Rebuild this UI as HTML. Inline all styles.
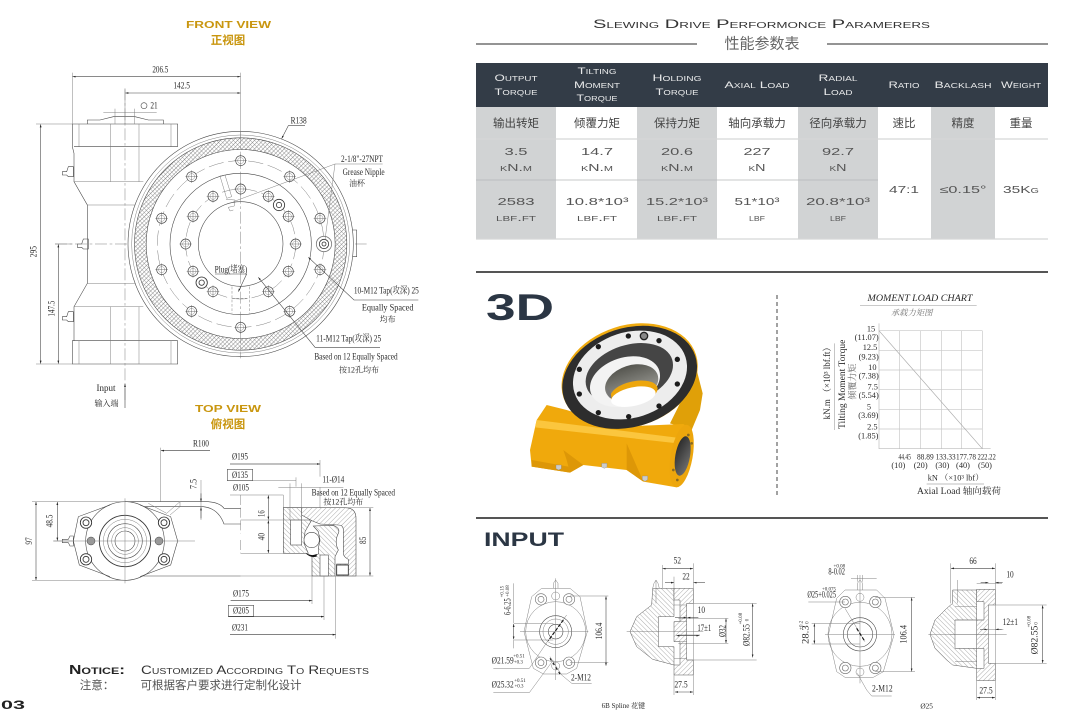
<!DOCTYPE html>
<html><head><meta charset="utf-8"><style>
html,body{margin:0;padding:0;background:#fff;width:1080px;height:715px;overflow:hidden}
svg{display:block}
.s text{font-family:"Liberation Serif","Noto Serif CJK SC",serif;fill:#2a2a2a;font-size:29px;text-anchor:middle}
.w text{font-family:"Liberation Sans","Noto Sans CJK SC",sans-serif;font-variant:small-caps;fill:#555;text-anchor:middle;font-size:10px}
.z{fill:none;stroke:#444;stroke-width:1.7}
.l{fill:none;stroke:#777;stroke-width:1.4}
.d{stroke-dasharray:36 8 8 8}
.h{stroke-dasharray:46 14}
.g{font-variant:normal!important;font-weight:bold;font-size:10px!important;fill:#c9960f!important}
.c{font-variant:normal!important;font-weight:bold;font-size:11.5px!important;fill:#c9960f!important}
.th{fill:#e8e9ea!important;font-size:9.5px!important}
.cn{font-variant:normal!important;font-size:11.5px!important;fill:#444!important}
</style></head><body>
<svg width="1080" height="715" viewBox="0 0 1080 715" xmlns="http://www.w3.org/2000/svg">
<defs>
<pattern id="hx" width="9" height="9" patternUnits="userSpaceOnUse" patternTransform="rotate(45)"><rect width="9" height="9" fill="#fff"/><line x1="0" y1="0" x2="0" y2="9" stroke="#555" stroke-width="2.2"/><line x1="0" y1="0" x2="9" y2="0" stroke="#777" stroke-width="1.8"/></pattern>
<pattern id="ha" width="10" height="10" patternUnits="userSpaceOnUse" patternTransform="rotate(45)"><rect width="10" height="10" fill="#fff"/><line x1="0" y1="0" x2="0" y2="10" stroke="#666" stroke-width="1.6"/></pattern>
<pattern id="hb" width="10" height="10" patternUnits="userSpaceOnUse" patternTransform="rotate(-45)"><rect width="10" height="10" fill="#fff"/><line x1="0" y1="0" x2="0" y2="10" stroke="#666" stroke-width="1.6"/></pattern>
<marker id="a" viewBox="0 0 10 6" refX="10" refY="3" markerWidth="9" markerHeight="6" markerUnits="userSpaceOnUse" orient="auto-start-reverse"><path d="M0,0L10,3L0,6z" fill="#222"/></marker>
<g id="hole"><circle r="15" fill="#fff" stroke="#444" stroke-width="2"/><circle r="9" fill="none" stroke="#888" stroke-width="1.4"/><path d="M-19,0H19M0,-19V19" stroke="#555" stroke-width="1.2"/></g>
<g id="bolt"><circle r="17" fill="#fff" stroke="#333" stroke-width="2.6"/><circle r="9" fill="#fff" stroke="#333" stroke-width="2.6"/></g>
<g id="bolt2"><circle r="17" fill="#fff" stroke="#666" stroke-width="1.8"/><circle r="9" fill="#fff" stroke="#666" stroke-width="1.8"/></g>
<linearGradient id="gc" x1="0" y1="0" x2="0" y2="1"><stop offset="0" stop-color="#55554f"/><stop offset="1" stop-color="#a8a8a2"/></linearGradient>
<linearGradient id="ge" x1="0" y1="0" x2="1" y2="1"><stop offset="0" stop-color="#222"/><stop offset="1" stop-color="#777"/></linearGradient>
</defs>

<!-- FRONT VIEW -->
<g class="w"><text x="228.5" y="28" class="g" textLength="85" lengthAdjust="spacingAndGlyphs">FRONT VIEW</text>
<text x="228" y="44" class="c">正视图</text>
<text x="228" y="412" class="g" textLength="66" lengthAdjust="spacingAndGlyphs">TOP VIEW</text>
<text x="228" y="428" class="c">俯视图</text></g>

<g class="s" transform="scale(.33333)">
<!-- body -->
<path class="z" d="M217,372H533V440M217,372V440L222,460V545L262,615V850L222,920V1022H217V1092H533V1022M222,440H533M222,1022H533"/>
<path class="z" d="M262,372V360H300L340,350H405L445,360H490V372"/>
<path class="l" d="M237,372V440M332,372V545M417,372V545M513,372V440M237,1022V1092M332,920V1092M417,920V1092M513,1022V1092M222,545H430M222,920H430M262,615H430M262,850H430"/>
<path class="z" d="M187,515H200L205,500H220V530H205L200,525H187zM187,950H200L205,935H220V965H205L200,960H187zM232,732H245L250,717H265V747H250L245,742H232z"/>
<path class="l d" d="M375,265V1200M165,732H1100"/>
<!-- disc -->
<path class="z" d="M1055,690H1070V770H1055"/>
<circle cx="722" cy="732" r="338" fill="#fff" stroke="#444" stroke-width="1.7"/>
<circle cx="722" cy="732" r="327" class="l"/>
<circle cx="722" cy="732" r="301" fill="none" stroke="url(#hx)" stroke-width="35"/>
<circle cx="722" cy="732" r="318.5" class="z"/><circle cx="722" cy="732" r="283.5" class="z"/>
<circle cx="722" cy="732" r="250" class="l h"/><circle cx="722" cy="732" r="212" class="z"/>
<circle cx="722" cy="732" r="165" class="l h" stroke-dasharray="30 12"/><circle cx="722" cy="732" r="127" class="z"/>
<path class="l d" d="M722,395V1075"/>
<use href="#hole" x="722" y="482"/><use href="#hole" x="869" y="530"/><use href="#hole" x="960" y="655"/><use href="#hole" x="960" y="809"/><use href="#hole" x="869" y="934"/><use href="#hole" x="722" y="982"/><use href="#hole" x="575" y="934"/><use href="#hole" x="485" y="809"/><use href="#hole" x="485" y="655"/><use href="#hole" x="575" y="530"/>
<use href="#hole" x="722" y="567"/><use href="#hole" x="805" y="589"/><use href="#hole" x="865" y="649"/><use href="#hole" x="887" y="732"/><use href="#hole" x="865" y="814"/><use href="#hole" x="805" y="875"/><use href="#hole" x="639" y="875"/><use href="#hole" x="579" y="814"/><use href="#hole" x="557" y="732"/><use href="#hole" x="579" y="649"/><use href="#hole" x="639" y="589"/>
<g fill="#fff" stroke="#333" stroke-width="2.4"><circle cx="837" cy="615" r="17"/><circle cx="837" cy="615" r="8"/><circle cx="605" cy="848" r="17"/><circle cx="605" cy="848" r="8"/><circle cx="972" cy="732" r="23" stroke="#777"/><circle cx="972" cy="732" r="14"/><circle cx="972" cy="732" r="6"/></g>
<path class="l" fill="#fff" d="M660,528L675,525L695,590L680,595zM678,598L705,600L703,618L685,622L690,633L700,630"/>
<path class="l" d="M696,860V940M749,860V940M696,895H749" stroke-dasharray="8 5"/>
<!-- dims -->
<path class="l" d="M217,218V372M722,218V415M375,268V372M108,372H217M108,1092H217M165,732H217M310,338H470M345,326V372M404,326V372"/>
<path class="z" marker-start="url(#a)" marker-end="url(#a)" d="M218,230H721"/>
<path class="z" marker-start="url(#a)" marker-end="url(#a)" d="M376,279H721"/>
<path class="z" marker-start="url(#a)" marker-end="url(#a)" d="M122,373V1091"/>
<path class="z" marker-start="url(#a)" marker-end="url(#a)" d="M175,733V1091"/>
<circle cx="432" cy="317" r="9" class="z"/>
<path class="z" marker-end="url(#a)" d="M915,377H865L845,416"/>
<path class="l" d="M1148,492H1005L700,605M1005,492L975,720"/>
<path class="z" marker-end="url(#a)" d="M1255,900H1062L925,772"/>
<path class="z" marker-end="url(#a)" d="M1140,1042H945L775,832"/>
<path class="z" marker-end="url(#a)" d="M645,822H740L715,875"/>
<path class="z" marker-end="url(#a)" d="M375,1200V1152"/>
<text x="481" y="218" textLength="48" lengthAdjust="spacingAndGlyphs">206.5</text>
<text x="545" y="266" textLength="50" lengthAdjust="spacingAndGlyphs">142.5</text>
<text x="462" y="326" textLength="22" lengthAdjust="spacingAndGlyphs">21</text>
<text x="896" y="371" textLength="48" lengthAdjust="spacingAndGlyphs">R138</text>
<text x="1086" y="486" textLength="126" lengthAdjust="spacingAndGlyphs">2-1/8"-27NPT</text>
<text x="1091" y="525" textLength="126" lengthAdjust="spacingAndGlyphs">Grease Nipple</text>
<text x="1071" y="558" style="font-size:24px">油杯</text>
<text x="693" y="817" textLength="98" lengthAdjust="spacingAndGlyphs">Plug(堵塞)</text>
<text x="1159" y="881" textLength="195" lengthAdjust="spacingAndGlyphs">10-M12 Tap(攻深) 25</text>
<text x="1163" y="931" textLength="155" lengthAdjust="spacingAndGlyphs">Equally Spaced</text>
<text x="1163" y="966" style="font-size:24px">均布</text>
<text x="1046" y="1025" textLength="195" lengthAdjust="spacingAndGlyphs">11-M12 Tap(攻深) 25</text>
<text x="1068" y="1078" textLength="250" lengthAdjust="spacingAndGlyphs">Based on 12 Equally Spaced</text>
<text x="1077" y="1117" style="font-size:24px">按12孔均布</text>
<text transform="translate(110,755) rotate(-90)" textLength="34" lengthAdjust="spacingAndGlyphs">295</text>
<text transform="translate(163,926) rotate(-90)" textLength="48" lengthAdjust="spacingAndGlyphs">147.5</text>
</g>
<g class="s"><text x="106" y="391" style="font-size:9px" >Input</text><text x="106.5" y="406" style="font-size:8px">输入端</text>
<line x1="125" y1="400" x2="125" y2="408" stroke="#444" stroke-width=".6"/></g>

<!-- TOP VIEW -->
<g class="s" transform="translate(0,400) scale(.33333)">
<path class="z" d="M375,305H625Q660,308 672,325H722M420,320H610Q655,325 672,372H722M430,528H722M375,305H482"/>
<path class="l" d="M445,310L500,340L540,305V320L510,345"/>
<circle cx="375" cy="423" r="118" fill="#fff" stroke="#444" stroke-width="1.7"/>
<path class="z" fill="none" d="M330,315L235,350L220,423L238,495L330,530M420,315L512,350L533,423L512,495L420,530"/>
<circle cx="375" cy="423" r="77" fill="#fff" stroke="#333" stroke-width="2.6"/>
<circle cx="375" cy="423" r="65" class="l"/><circle cx="375" cy="423" r="52" class="z"/><circle cx="375" cy="423" r="40" class="l"/><circle cx="375" cy="423" r="30" class="z"/>
<path class="l" d="M160,423H585M375,295V550"/>
<use href="#bolt" x="258" y="368"/><use href="#bolt" x="492" y="368"/><use href="#bolt" x="258" y="478"/><use href="#bolt" x="492" y="478"/>
<circle cx="273" cy="423" r="12" fill="#999" stroke="#444" stroke-width="1.5"/><circle cx="477" cy="423" r="12" fill="#999" stroke="#444" stroke-width="1.5"/>
<path class="z" d="M187,418H205L210,408H220V438H210L205,428H187z"/>
<path d="M722,285V400M722,420V460" class="l" stroke-dasharray="30 8"/>
<!-- section -->
<path fill="url(#hb)" stroke="#444" stroke-width="1.7" d="M850,323H905V360H935L915,395L912,430L925,460H850z"/>
<rect x="872" y="360" width="33" height="75" fill="#fff" stroke="#444" stroke-width="1.7"/>
<path fill="url(#ha)" stroke="#444" stroke-width="1.7" d="M905,323H1035Q1068,323 1068,355V528H1010V492H1045V478Q1030,470 1030,460V390Q1030,375 1015,375L960,372L935,362L905,345z"/>
<path fill="url(#hb)" stroke="#444" stroke-width="1.7" d="M940,378L1000,376Q1022,385 1015,400Q1002,425 1015,450L1005,470V528H936V468L955,462L955,445L960,420L955,395z"/>
<circle cx="935" cy="420" r="23" fill="#fff" stroke="#444" stroke-width="1.7"/>
<rect x="960" y="465" width="25" height="63" fill="#fff" stroke="#444" stroke-width="1.7"/>
<rect x="1010" y="495" width="35" height="30" fill="#fff" stroke="#333" stroke-width="2.6"/>
<path d="M915,458Q935,470 950,462L950,470Q930,475 915,458z" fill="#111"/>
<path class="l" d="M722,360H905M722,460H925M96,305H375M96,541H375M905,323H1120M722,528H1120M690,285H850M850,285V323M870,250V360M905,250V360M835,262H1030M960,262V323M960,180V230M690,192H960M682,242H888M888,232V260M482,143V305M482,152H630M603,240V360M692,602H938M936,528V612M685,650H972M972,528V660M690,704H1007M1007,528V716M160,423H220"/>
<path class="z" marker-start="url(#a)" marker-end="url(#a)" d="M108,306V540"/>
<path class="z" marker-start="url(#a)" marker-end="url(#a)" d="M172,306V422"/>
<path class="z" marker-start="url(#a)" marker-end="url(#a)" d="M805,286V359"/>
<path class="z" marker-start="url(#a)" marker-end="url(#a)" d="M805,361V459"/>
<path class="z" marker-start="url(#a)" marker-end="url(#a)" d="M1110,324V527"/>
<path class="z" marker-end="url(#a)" d="M630,152H483"/><path class="z" marker-end="url(#a)" d="M690,192H960"/><path class="z" marker-end="url(#a)" d="M692,602H936"/><path class="z" marker-end="url(#a)" d="M685,650H972"/><path class="z" marker-end="url(#a)" d="M690,704H1007"/>
<path class="z" marker-end="url(#a)" d="M603,280V305"/><path class="z" marker-end="url(#a)" d="M603,355V322"/>
<rect x="682" y="208" width="76" height="34" class="z"/><rect x="685" y="616" width="76" height="33" class="z"/>
<text x="603" y="139" textLength="48" lengthAdjust="spacingAndGlyphs">R100</text>
<text x="720" y="179" textLength="48" lengthAdjust="spacingAndGlyphs">Ø195</text>
<text x="720" y="234" textLength="48" lengthAdjust="spacingAndGlyphs">Ø135</text>
<text x="723" y="272" textLength="48" lengthAdjust="spacingAndGlyphs">Ø105</text>
<text x="1000" y="248" textLength="66" lengthAdjust="spacingAndGlyphs">11-Ø14</text>
<text x="1060" y="287" textLength="250" lengthAdjust="spacingAndGlyphs">Based on 12 Equally Spaced</text>
<text x="1030" y="314" style="font-size:24px">按12孔均布</text>
<text x="723" y="589" textLength="48" lengthAdjust="spacingAndGlyphs">Ø175</text>
<text x="723" y="641" textLength="48" lengthAdjust="spacingAndGlyphs">Ø205</text>
<text x="720" y="691" textLength="48" lengthAdjust="spacingAndGlyphs">Ø231</text>
<text transform="translate(590,252) rotate(-90)" textLength="30" lengthAdjust="spacingAndGlyphs">7.5</text>
<text transform="translate(793,341) rotate(-90)" textLength="20" lengthAdjust="spacingAndGlyphs">16</text>
<text transform="translate(793,410) rotate(-90)" textLength="22" lengthAdjust="spacingAndGlyphs">40</text>
<text transform="translate(1098,421) rotate(-90)" textLength="22" lengthAdjust="spacingAndGlyphs">85</text>
<text transform="translate(96,423) rotate(-90)" textLength="22" lengthAdjust="spacingAndGlyphs">97</text>
<text transform="translate(158,363) rotate(-90)" textLength="38" lengthAdjust="spacingAndGlyphs">48.5</text>
</g>

<!-- NOTICE -->
<g class="w">
<text x="97" y="674" style="font-size:12.5px;font-weight:bold;fill:#222" textLength="56" lengthAdjust="spacingAndGlyphs">Notice:</text>
<text x="255" y="674" style="font-size:11.5px;fill:#333" textLength="228" lengthAdjust="spacingAndGlyphs">Customized According To Requests</text>
<text x="97" y="689" style="font-variant:normal;font-size:11.5px;fill:#555">注意：</text>
<text x="221" y="689" style="font-variant:normal;font-size:11.5px;fill:#555">可根据客户要求进行定制化设计</text>
<text x="13" y="709" style="font-size:11.5px;font-weight:bold;fill:#222" textLength="24" lengthAdjust="spacingAndGlyphs">03</text>
</g>

<!-- TITLE -->
<g class="w">
<text x="761.5" y="28" style="font-size:12px;fill:#333" textLength="337" lengthAdjust="spacingAndGlyphs">Slewing Drive Performonce Paramerers</text>
<text x="762" y="48.5" style="font-variant:normal;font-size:15px;fill:#666">性能参数表</text>
</g>
<path d="M476,44H697M827,44H1048" stroke="#555" stroke-width="1.2"/>

<!-- TABLE -->
<rect x="476" y="63" width="572" height="44" fill="#333c47"/>
<g fill="#d1d3d4"><rect x="476" y="107" width="80" height="132"/><rect x="637" y="107" width="80" height="132"/><rect x="798" y="107" width="80" height="132"/><rect x="931" y="107" width="64" height="132"/></g>
<path d="M476,139H1048M476,239H1048" stroke="#d5d6d7" stroke-width="1.2"/><path d="M476,180H878" stroke="#b5b7b9" stroke-width=".8"/>
<g class="w">
<text x="516" y="81" class="th" textLength="43" lengthAdjust="spacingAndGlyphs">Output</text>
<text x="516" y="95" class="th" textLength="43" lengthAdjust="spacingAndGlyphs">Torque</text>
<text x="597" y="74" class="th" textLength="39" lengthAdjust="spacingAndGlyphs">Tilting</text>
<text x="597" y="88" class="th" textLength="46" lengthAdjust="spacingAndGlyphs">Moment</text>
<text x="597" y="101" class="th" textLength="41" lengthAdjust="spacingAndGlyphs">Torque</text>
<text x="677" y="81" class="th" textLength="49" lengthAdjust="spacingAndGlyphs">Holding</text>
<text x="677" y="95" class="th" textLength="43" lengthAdjust="spacingAndGlyphs">Torque</text>
<text x="757" y="88" class="th" textLength="65" lengthAdjust="spacingAndGlyphs">Axial Load</text>
<text x="838" y="81" class="th" textLength="39" lengthAdjust="spacingAndGlyphs">Radial</text>
<text x="838" y="95" class="th" textLength="29" lengthAdjust="spacingAndGlyphs">Load</text>
<text x="904" y="88" class="th" textLength="31" lengthAdjust="spacingAndGlyphs">Ratio</text>
<text x="963" y="88" class="th" textLength="57" lengthAdjust="spacingAndGlyphs">Backlash</text>
<text x="1021" y="88" class="th" textLength="40" lengthAdjust="spacingAndGlyphs">Weight</text>
<text x="516" y="127" class="cn">输出转矩</text>
<text x="597" y="127" class="cn">倾覆力矩</text>
<text x="677" y="127" class="cn">保持力矩</text>
<text x="757" y="127" class="cn">轴向承载力</text>
<text x="838" y="127" class="cn">径向承载力</text>
<text x="904" y="127" class="cn">速比</text>
<text x="963" y="127" class="cn">精度</text>
<text x="1021" y="127" class="cn">重量</text>
<text x="516" y="155" textLength="23" lengthAdjust="spacingAndGlyphs">3.5</text>
<text x="597" y="155" textLength="32" lengthAdjust="spacingAndGlyphs">14.7</text>
<text x="677" y="155" textLength="32" lengthAdjust="spacingAndGlyphs">20.6</text>
<text x="757" y="155" textLength="27" lengthAdjust="spacingAndGlyphs">227</text>
<text x="838" y="155" textLength="32" lengthAdjust="spacingAndGlyphs">92.7</text>
<text x="516" y="171" textLength="32" lengthAdjust="spacingAndGlyphs">kN.m</text>
<text x="597" y="171" textLength="32" lengthAdjust="spacingAndGlyphs">kN.m</text>
<text x="677" y="171" textLength="32" lengthAdjust="spacingAndGlyphs">kN.m</text>
<text x="757" y="171" textLength="17" lengthAdjust="spacingAndGlyphs">kN</text>
<text x="838" y="171" textLength="17" lengthAdjust="spacingAndGlyphs">kN</text>
<text x="516" y="205" textLength="37" lengthAdjust="spacingAndGlyphs">2583</text>
<text x="597" y="205" textLength="63" lengthAdjust="spacingAndGlyphs">10.8*10³</text>
<text x="677" y="205" textLength="62" lengthAdjust="spacingAndGlyphs">15.2*10³</text>
<text x="757" y="205" textLength="45" lengthAdjust="spacingAndGlyphs">51*10³</text>
<text x="838" y="205" textLength="64" lengthAdjust="spacingAndGlyphs">20.8*10³</text>
<text x="516" y="221" textLength="40" lengthAdjust="spacingAndGlyphs">lbf.ft</text>
<text x="597" y="221" textLength="40" lengthAdjust="spacingAndGlyphs">lbf.ft</text>
<text x="677" y="221" textLength="40" lengthAdjust="spacingAndGlyphs">lbf.ft</text>
<text x="757" y="221" textLength="16" lengthAdjust="spacingAndGlyphs">lbf</text>
<text x="838" y="221" textLength="16" lengthAdjust="spacingAndGlyphs">lbf</text>
<text x="904" y="193" textLength="30" lengthAdjust="spacingAndGlyphs">47:1</text>
<text x="963" y="193" textLength="47" lengthAdjust="spacingAndGlyphs">≤0.15°</text>
<text x="1021" y="193" textLength="36" lengthAdjust="spacingAndGlyphs">35Kg</text>
</g>

<path d="M476,272H1048M476,518H1048" stroke="#555" stroke-width="2"/>
<path d="M777,295V495" stroke="#444" stroke-width="1" stroke-dasharray="4 3"/>

<!-- 3D -->
<g class="w">
<text x="520" y="320" style="font-variant:normal;font-weight:bold;font-size:37px;fill:#2b3644" textLength="68" lengthAdjust="spacingAndGlyphs">3D</text>
<text x="524" y="546" style="font-variant:normal;font-weight:bold;font-size:19px;fill:#2b3644" textLength="80" lengthAdjust="spacingAndGlyphs">INPUT</text>
</g>
<g transform="translate(470,270) scale(.33333)">
<path d="M680,300L698,370L690,420L665,480L600,460z" fill="#e0a008"/>
<path d="M230,405L200,450L180,540L185,590L300,608L340,585L470,600L520,635L620,652L665,560L665,480L640,462L450,470L290,420z" fill="#f0a90c"/>
<path d="M200,450L620,503L640,500L640,522L195,472z" fill="#fbc63e"/>
<path d="M280,540L340,585L300,608L290,570zM470,520L520,635L470,600zM185,590L300,608L295,590L185,570z" fill="#dd9707"/>
<ellipse cx="479" cy="318" rx="209" ry="152" fill="#f0ab10" transform="rotate(-18 479 318)"/>
<ellipse cx="479" cy="322" rx="207" ry="148" fill="#2d2d2d" transform="rotate(-18 479 322)"/>
<ellipse cx="480" cy="315" rx="175" ry="128" fill="#ededed" transform="rotate(-18 480 315)"/>
<ellipse cx="478" cy="310" rx="135" ry="85" fill="#454545" transform="rotate(-18 478 310)"/>
<ellipse cx="465" cy="335" rx="108" ry="72" fill="#f3f3f3" transform="rotate(-18 465 335)"/>
<ellipse cx="485" cy="340" rx="82" ry="54" fill="url(#gc)" transform="rotate(-18 485 340)"/>
<ellipse cx="492" cy="368" rx="72" ry="34" fill="#eda60c" transform="rotate(-12 492 368)"/>
<ellipse cx="490" cy="380" rx="68" ry="28" fill="#fff" transform="rotate(-12 490 380)"/>
<path d="M408,350Q412,385 425,385L420,362z" fill="#777"/>
<g fill="#1c1c1c"><circle cx="475" cy="198" r="8"/><circle cx="567" cy="212" r="8"/><circle cx="622" cy="268" r="8"/><circle cx="622" cy="342" r="8"/><circle cx="567" cy="408" r="8"/><circle cx="476" cy="440" r="8"/><circle cx="385" cy="428" r="8"/><circle cx="328" cy="372" r="8"/><circle cx="328" cy="298" r="8"/><circle cx="385" cy="230" r="8"/></g>
<circle cx="522" cy="198" r="11" fill="#888" stroke="#222" stroke-width="4"/>
<ellipse cx="635" cy="558" rx="33" ry="95" fill="#eda60c" transform="rotate(10 635 558)"/>
<ellipse cx="638" cy="558" rx="22" ry="60" fill="url(#ge)" transform="rotate(10 638 558)"/>
<g fill="#8a6a20"><circle cx="655" cy="495" r="4"/><circle cx="665" cy="520" r="4"/><circle cx="610" cy="600" r="4"/><circle cx="622" cy="630" r="4"/></g>
<g fill="#ccc" stroke="#888" stroke-width="1"><path d="M258,585H274V596L266,600L258,596z"/><path d="M395,580H411V591L403,595L395,591z"/><path d="M517,618H533V629L525,634L517,629z"/></g>
</g>

<!-- CHART -->
<g class="s" transform="translate(780,280) scale(.33333)">
<path d="M297,152H607M297,211H607M297,270H607M297,329H607M297,388H607M297,447H607M359,152V506M421,152V506M484,152V506M545,152V506M607,152V506" stroke="#c8c8c8" stroke-width="2"/>
<path d="M297,130V506H632" stroke="#bbb" stroke-width="2" fill="none"/>
<path d="M297,152L607,506" stroke="#aaa" stroke-width="2"/>
<path d="M240,76H590M163,190V450M440,612H612" stroke="#aaa" stroke-width="2"/>
<text x="420" y="63" style="font-style:italic;font-size:27px" textLength="315" lengthAdjust="spacingAndGlyphs">MOMENT LOAD CHART</text>
<text x="395" y="107" style="font-style:italic;font-size:25px;fill:#777">承载力矩图</text>
<g>
<text x="273" y="154" style="font-size:25px">15</text><text x="260" y="180" style="font-size:25px">(11.07)</text><text x="270" y="210" style="font-size:25px">12.5</text><text x="266" y="238" style="font-size:25px">(9.23)</text><text x="277" y="270" style="font-size:25px">10</text><text x="266" y="296" style="font-size:25px">(7.38)</text><text x="278" y="329" style="font-size:25px">7.5</text><text x="266" y="354" style="font-size:25px">(5.54)</text><text x="267" y="388" style="font-size:25px">5</text><text x="265" y="414" style="font-size:25px">(3.69)</text><text x="277" y="448" style="font-size:25px">2.5</text><text x="265" y="475" style="font-size:25px">(1.85)</text>
<text x="374" y="538" style="font-size:25px" textLength="37" lengthAdjust="spacingAndGlyphs">44.45</text><text x="355" y="564" style="font-size:25px">(10)</text><text x="436" y="538" style="font-size:25px" textLength="50" lengthAdjust="spacingAndGlyphs">88.89</text><text x="422" y="564" style="font-size:25px">(20)</text><text x="497" y="538" style="font-size:25px" textLength="60" lengthAdjust="spacingAndGlyphs">133.33</text><text x="487" y="564" style="font-size:25px">(30)</text><text x="558" y="538" style="font-size:25px" textLength="60" lengthAdjust="spacingAndGlyphs">177.78</text><text x="549" y="564" style="font-size:25px">(40)</text><text x="620" y="538" style="font-size:25px" textLength="55" lengthAdjust="spacingAndGlyphs">222.22</text><text x="615" y="564" style="font-size:25px">(50)</text>
</g>
<text x="527" y="602" style="font-size:25px">kN （×10³ lbf）</text>
<text x="537" y="642" style="font-size:27px" textLength="252" lengthAdjust="spacingAndGlyphs">Axial Load  轴向载荷</text>
<text transform="translate(150,303) rotate(-90)" style="font-size:27px" textLength="230" lengthAdjust="spacingAndGlyphs">kN.m （×10³ lbf.ft）</text>
<text transform="translate(195,313) rotate(-90)" style="font-size:27px" textLength="268" lengthAdjust="spacingAndGlyphs">Tilting Moment Torque</text>
<text transform="translate(226,305) rotate(-90)" style="font-size:27px;fill:#666">倾覆力矩</text>
</g>

<!-- INPUT LEFT -->
<g class="s" transform="translate(470,520) scale(.33333)">
<path class="l" fill="#fff" d="M215,205H300L330,230L352,335L320,445L290,462H220L190,445L162,335L185,230z"/>
<path class="l" d="M250,205V190L257,180L264,190V205"/>
<circle cx="257" cy="335" r="90" class="l"/><circle cx="257" cy="335" r="48" class="z"/><circle cx="257" cy="335" r="38" class="l"/><circle cx="257" cy="335" r="22" class="z"/>
<use href="#bolt2" x="213" y="238"/><use href="#bolt2" x="297" y="238"/><use href="#bolt2" x="213" y="428"/><use href="#bolt2" x="297" y="428"/>
<circle cx="257" cy="228" r="12" fill="#fff" class="l"/><circle cx="257" cy="438" r="12" fill="#fff" class="l"/>
<path class="l" d="M150,335H355M257,175V480M132,310H250M132,360H250M300,228H415M300,428H415M130,190V310M130,360V385"/>
<path class="z" marker-start="url(#a)" marker-end="url(#a)" d="M408,229V437"/>
<path class="l" d="M290,285L232,365M240,410L275,465L305,490H365M232,365L178,445H70M250,420L178,518H70" />
<path d="M280,300L235,362" stroke="#111" stroke-width="3.5" stroke-dasharray="10 5"/>
<path d="M240,415L272,465" stroke="#111" stroke-width="3" stroke-dasharray="8 8"/>
<path fill="url(#hb)" stroke="#555" stroke-width="1.5" d="M480,335L500,290L545,255L548,205H612V290H565V380H612V435L548,418L500,380z"/>
<path fill="url(#ha)" stroke="#555" stroke-width="1.5" d="M612,205H670V250H650V420H670V465H612V435H630V365H612V305H630V240H612z"/>
<path class="l" d="M612,255H650M612,305H650M612,365H650M612,415H650"/>
<path class="l" d="M470,335H700M558,180V250M548,205L552,190L558,180L564,190L568,205M577,135V205M670,130V525M612,170V205M612,465V525M650,250H860M650,420H860M625,295H775M625,345H690M625,370H775"/>
<path class="z" marker-start="url(#a)" marker-end="url(#a)" d="M578,146H669"/>
<path class="z" marker-end="url(#a)" d="M585,188H612"/><path class="z" marker-end="url(#a)" d="M705,188H671"/>
<path class="z" marker-end="url(#a)" d="M615,293H650"/><path class="z" marker-end="url(#a)" d="M685,293H652"/>
<path class="z" marker-start="url(#a)" marker-end="url(#a)" d="M619,347H688"/>
<path class="z" marker-start="url(#a)" marker-end="url(#a)" d="M768,296V369"/>
<path class="z" marker-start="url(#a)" marker-end="url(#a)" d="M848,251V412"/>
<path class="z" marker-start="url(#a)" marker-end="url(#a)" d="M615,516H669"/>
<path class="z" marker-start="url(#a)" marker-end="url(#a)" d="M131,312V358"/>
<text x="622" y="130" textLength="22" lengthAdjust="spacingAndGlyphs">52</text>
<text x="648" y="178" textLength="22" lengthAdjust="spacingAndGlyphs">22</text>
<text x="694" y="279" textLength="22" lengthAdjust="spacingAndGlyphs">10</text>
<text x="703" y="333" textLength="42" lengthAdjust="spacingAndGlyphs">17±1</text>
<text x="633" y="503" textLength="40" lengthAdjust="spacingAndGlyphs">27.5</text>
<text x="333" y="482" textLength="60" lengthAdjust="spacingAndGlyphs">2-M12</text>
<text x="98" y="431" textLength="66" lengthAdjust="spacingAndGlyphs">Ø21.59</text><text x="147" y="413" style="font-size:15px">+0.51</text><text x="145" y="431" style="font-size:15px">+0.3</text>
<text x="98" y="503" textLength="66" lengthAdjust="spacingAndGlyphs">Ø25.32</text><text x="150" y="486" style="font-size:15px">+0.51</text><text x="147" y="502" style="font-size:15px">+0.3</text>
<text x="460" y="564" style="font-size:21px">6B Spline 花键</text>
<text transform="translate(122,260) rotate(-90)" textLength="50" lengthAdjust="spacingAndGlyphs">6-6.25</text><text transform="translate(100,215) rotate(-90)" style="font-size:15px">+0.15</text><text transform="translate(117,213) rotate(-90)" style="font-size:15px">+0.08</text>
<text transform="translate(396,333) rotate(-90)" textLength="50" lengthAdjust="spacingAndGlyphs">106.4</text>
<text transform="translate(767,333) rotate(-90)" textLength="36" lengthAdjust="spacingAndGlyphs">Ø32</text>
<text transform="translate(838,345) rotate(-90)" textLength="66" lengthAdjust="spacingAndGlyphs">Ø82.55</text><text transform="translate(816,296) rotate(-90)" style="font-size:15px">+0.08</text><text transform="translate(836,300) rotate(-90)" style="font-size:15px">0</text>
</g>

<!-- INPUT RIGHT -->
<g class="s" transform="translate(770,540) scale(.33333)">
<path class="l" fill="#fff" d="M225,150H320L345,175L372,285L340,395L310,412H225L200,395L175,285L200,175z"/>
<path class="l" d="M262,150V130L270,120L278,130V150"/>
<circle cx="270" cy="283" r="96" class="l"/><circle cx="270" cy="283" r="50" class="z"/><circle cx="270" cy="283" r="38" class="z"/>
<use href="#bolt2" x="226" y="186"/><use href="#bolt2" x="316" y="186"/><use href="#bolt2" x="226" y="384"/><use href="#bolt2" x="316" y="384"/>
<circle cx="270" cy="172" r="12" fill="#fff" class="l"/><circle cx="270" cy="396" r="12" fill="#fff" class="l"/>
<path class="l" d="M165,283H375M270,105V430M125,250H270M125,312H270M316,172H435M316,395H435M115,186H225M243,116H320M262,105V125M278,105V125"/>
<path class="z" marker-start="url(#a)" marker-end="url(#a)" d="M425,173V394"/>
<path class="z" marker-start="url(#a)" marker-end="url(#a)" d="M133,251V311"/>
<path class="l" d="M225,205L285,305M262,400L290,450L305,468H365"/>
<path d="M260,265L285,305" stroke="#111" stroke-width="3.5" stroke-dasharray="10 6"/>
<path fill="url(#hb)" stroke="#555" stroke-width="1.5" d="M480,283L495,240L530,205L548,190V150H620V240H555V325H620V385L548,375L530,360L495,325z"/>
<path fill="url(#ha)" stroke="#555" stroke-width="1.5" d="M620,148H676V195H655V370H676V422H620V385H642V325H620V240H642V185H620z"/>
<path class="l" d="M555,200H620M555,240H642M555,325H642M555,365H620M540,283H650"/>
<path class="l" d="M475,283H710M563,120V190M542,70V190M676,70V480M620,420V480M620,130H696M676,195H830M676,370H830M652,268H700"/>
<path class="z" marker-start="url(#a)" marker-end="url(#a)" d="M543,85H675"/>
<path class="z" marker-end="url(#a)" d="M632,128H655"/><path class="z" marker-end="url(#a)" d="M698,128H677"/>
<path class="z" marker-end="url(#a)" d="M630,268H652"/><path class="z" marker-end="url(#a)" d="M695,268H677"/>
<path class="z" marker-start="url(#a)" marker-end="url(#a)" d="M818,196V369"/>
<path class="z" marker-start="url(#a)" marker-end="url(#a)" d="M621,473H675"/>
<text x="609" y="72" textLength="22" lengthAdjust="spacingAndGlyphs">66</text>
<text x="720" y="113" textLength="22" lengthAdjust="spacingAndGlyphs">10</text>
<text x="721" y="255" textLength="46" lengthAdjust="spacingAndGlyphs">12±1</text>
<text x="648" y="460" textLength="40" lengthAdjust="spacingAndGlyphs">27.5</text>
<text x="337" y="455" textLength="62" lengthAdjust="spacingAndGlyphs">2-M12</text>
<text x="200" y="103" textLength="50" lengthAdjust="spacingAndGlyphs">8-0.02</text><text x="208" y="82" style="font-size:15px">+0.08</text>
<text x="155" y="173" textLength="86" lengthAdjust="spacingAndGlyphs">Ø25+0.025</text><text x="177" y="152" style="font-size:15px">+0.075</text>
<text x="470" y="505" style="font-size:22px">Ø25</text>
<text transform="translate(116,284) rotate(-90)" textLength="56" lengthAdjust="spacingAndGlyphs">28.3</text><text transform="translate(98,256) rotate(-90)" style="font-size:15px">+0.2</text><text transform="translate(116,248) rotate(-90)" style="font-size:15px">0</text>
<text transform="translate(410,283) rotate(-90)" textLength="56" lengthAdjust="spacingAndGlyphs">106.4</text>
<text transform="translate(803,300) rotate(-90)" textLength="86" lengthAdjust="spacingAndGlyphs">Ø82.55</text><text transform="translate(782,245) rotate(-90)" style="font-size:15px">+0.08</text><text transform="translate(802,250) rotate(-90)" style="font-size:15px">0</text>
</g>
</svg>
</body></html>
